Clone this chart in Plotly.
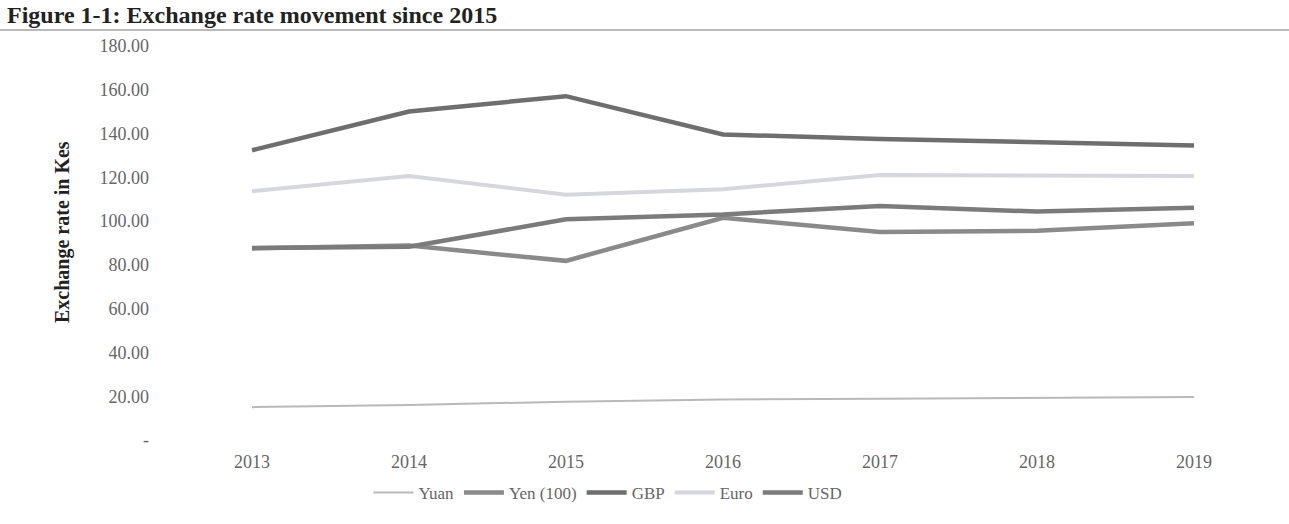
import plotly.graph_objects as go

years = [2013, 2014, 2015, 2016, 2017, 2018, 2019]
yuan = [15.0, 16.0, 17.5, 18.5, 18.8, 19.2, 19.6]
yen100 = [87.5, 88.8, 81.8, 101.5, 95.0, 95.5, 99.0]
gbp = [132.3, 150.0, 157.0, 139.5, 137.5, 135.8, 134.5]
euro = [113.6, 120.5, 112.0, 114.5, 121.0, 120.8, 120.5]
usd = [87.7, 88.2, 100.8, 103.0, 106.8, 104.3, 106.0]

y_ticks = [0, 20, 40, 60, 80, 100, 120, 140, 160, 180]
y_ticktext = ["-", "20.00", "40.00", "60.00", "80.00", "100.00", "120.00", "140.00", "160.00", "180.00"]

series = [
    ("Yuan", yuan, "#b9b9b9", 2),
    ("Yen (100)", yen100, "#8a8a8a", 4.5),
    ("GBP", gbp, "#6e6e6e", 4.5),
    ("Euro", euro, "#d6d6de", 4),
    ("USD", usd, "#7b7b7b", 4.5),
]

fig = go.Figure()
for name, vals, color, w in series:
    fig.add_trace(go.Scatter(x=years, y=vals, name=name, mode="lines",
                             line=dict(color=color, width=w)))

W, H = 1289, 524
L, R, T, B = 170, 19, 38, 79
pw, ph = W - L - R, H - T - B
bottom_px = H - B
px_per_year = 157
x0 = 2013 - (252 - L) / px_per_year
x1 = x0 + pw / px_per_year
unit = 2.19
zero_px = 440
y_bottom = -(bottom_px - zero_px) / unit
y_top = (zero_px - T) / unit


def py(p):
    return (bottom_px - p) / ph


def px(p):
    return (p - L) / pw


serif = "Liberation Serif, Times New Roman, serif"
tick_color = "#666666"

fig.update_layout(
    width=W, height=H,
    margin=dict(l=L, r=R, t=T, b=B, autoexpand=False),
    paper_bgcolor="white", plot_bgcolor="white",
    font=dict(family=serif, size=17, color=tick_color),
    showlegend=True,
    legend=dict(orientation="h", x=px(608), xanchor="center",
                y=py(493), yanchor="middle",
                font=dict(family=serif, size=17, color=tick_color),
                itemwidth=40, tracegroupgap=0),
    xaxis=dict(range=[x0, x1], tickvals=years, ticktext=[str(y) for y in years],
               showgrid=False, zeroline=False, showline=False, ticks="",
               ticklabelstandoff=4,
               tickfont=dict(family=serif, size=18, color=tick_color)),
    yaxis=dict(range=[y_bottom, y_top], tickvals=y_ticks, ticktext=y_ticktext,
               showgrid=False, zeroline=False, showline=False, ticks="",
               ticklabelstandoff=20,
               tickfont=dict(family=serif, size=18, color=tick_color)),
)

fig.add_annotation(text="<b>Exchange rate in Kes</b>", textangle=-90,
                   xref="paper", yref="paper",
                   x=px(63), y=py(232),
                   xanchor="center", yanchor="middle", showarrow=False,
                   font=dict(family=serif, size=20, color="#222222"))

fig.add_annotation(text="<b>Figure 1-1: Exchange rate movement since 2015</b>",
                   xref="paper", yref="paper",
                   x=px(5), y=py(0),
                   xanchor="left", yanchor="top", showarrow=False,
                   font=dict(family=serif, size=24, color="#222222"))

fig.add_shape(type="line", xref="paper", yref="paper",
              x0=px(0), x1=px(W),
              y0=py(30), y1=py(30),
              line=dict(color="#777777", width=1))

fig.write_html("out.html", config={"displayModeBar": False},
               post_script="document.body.style.margin='0';document.body.style.padding='0';")
